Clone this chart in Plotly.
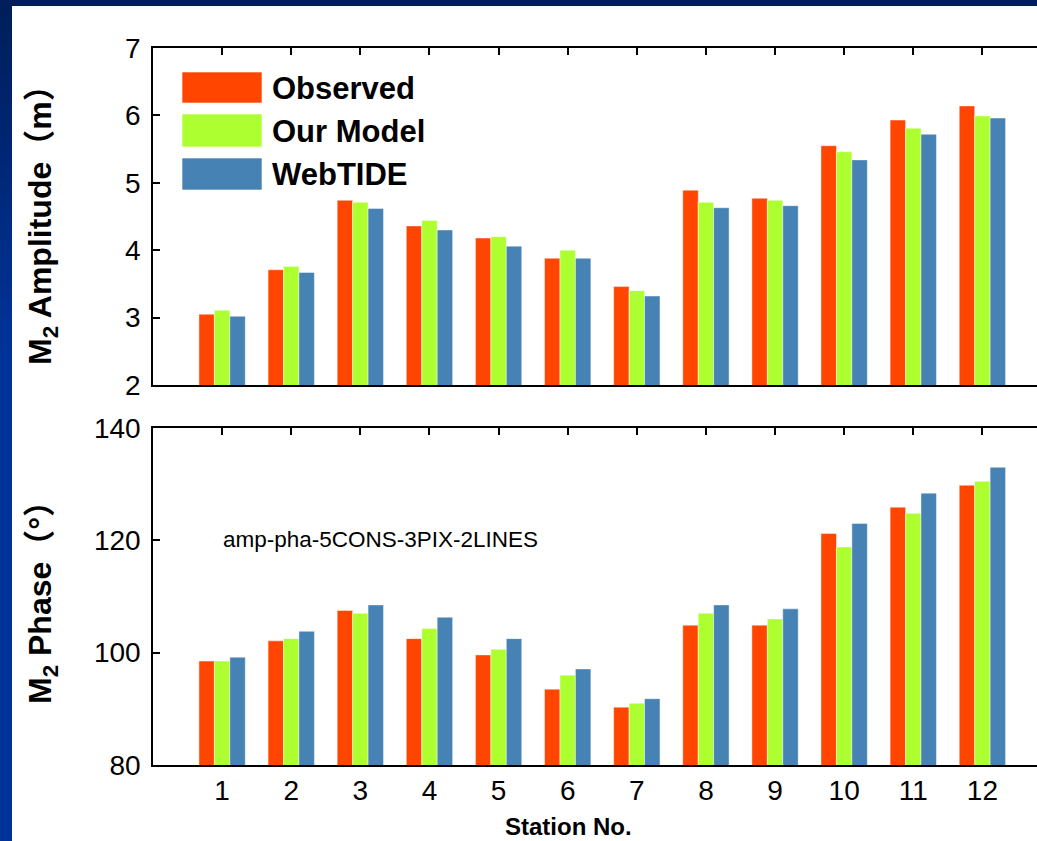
import plotly.graph_objects as go

# ---- data -------------------------------------------------------------
stations = list(range(1, 13))
station_labels = [str(s) for s in stations]

obs_amp = [3.05, 3.71, 4.74, 4.36, 4.18, 3.88, 3.46, 4.89, 4.77, 5.55, 5.93, 6.14]
model_amp = [3.11, 3.76, 4.71, 4.44, 4.20, 4.00, 3.40, 4.71, 4.74, 5.46, 5.81, 5.99]
web_amp = [3.02, 3.67, 4.62, 4.30, 4.06, 3.88, 3.32, 4.63, 4.66, 5.34, 5.72, 5.96]

obs_pha = [98.5, 102.1, 107.5, 102.5, 99.6, 93.5, 90.3, 104.9, 104.9, 121.2, 125.9, 129.8]
model_pha = [98.5, 102.5, 107.0, 104.3, 100.6, 96.0, 91.0, 107.0, 106.0, 118.8, 124.8, 130.5]
web_pha = [99.2, 103.8, 108.5, 106.3, 102.5, 97.1, 91.8, 108.5, 107.8, 123.0, 128.4, 133.0]

series_names = ["Observed", "Our Model", "WebTIDE"]
series_colors = ["#ff4500", "#adff2f", "#4682b4"]

amp_ticks = [2, 3, 4, 5, 6, 7]
pha_ticks = [80, 100, 120, 140]

# ---- page geometry ----------------------------------------------------
W, H = 1037, 841
ML, MR, MT, MB = 153, 0, 48, 76
PW, PH = W - ML - MR, H - MT - MB


def px(x):
    return (x - ML) / PW


def py(y):
    return (H - MB - y) / PH


FONT = "Liberation Sans, Arial, Noto Sans CJK SC, sans-serif"
edge = dict(color="rgba(255,255,255,0.55)", width=0.8)

fig = go.Figure()

for name, color, vals in zip(series_names, series_colors, [obs_amp, model_amp, web_amp]):
    fig.add_trace(go.Bar(x=stations, y=vals, name=name, marker=dict(color=color, line=edge),
                         xaxis="x", yaxis="y", showlegend=False))
for name, color, vals in zip(series_names, series_colors, [obs_pha, model_pha, web_pha]):
    fig.add_trace(go.Bar(x=stations, y=vals, name=name, marker=dict(color=color, line=edge),
                         xaxis="x2", yaxis="y2", showlegend=False))

axis_common = dict(showgrid=False, zeroline=False, showline=True, linecolor="black",
                   linewidth=1.5, automargin=False, fixedrange=True)
x_range = [0, 12.79]

top_dom = [py(385), 1.0]
bot_dom = [0.0, py(428)]

fig.update_layout(
    width=W, height=H,
    margin=dict(l=ML, r=MR, t=MT, b=MB, autoexpand=False),
    paper_bgcolor="#003399", plot_bgcolor="white",
    barmode="group", bargap=0.33, bargroupgap=0.0,
    font=dict(family=FONT, color="black"),
    xaxis=dict(domain=[0, 1], anchor="y", range=x_range, tickvals=stations,
               showticklabels=False, ticks="", **axis_common),
    yaxis=dict(domain=top_dom, anchor="x", range=[2, 7], tickvals=amp_ticks,
               ticks="inside", ticklen=7, tickwidth=1.5, tickcolor="black",
               tickfont=dict(size=28), ticklabelstandoff=5, **axis_common),
    xaxis3=dict(overlaying="x", side="top", anchor="y", range=x_range, tickvals=stations,
                showticklabels=False, ticks="inside", ticklen=7, tickwidth=1.5,
                tickcolor="black", **axis_common),
    xaxis2=dict(domain=[0, 1], anchor="y2", range=x_range, tickvals=stations,
                ticktext=station_labels, ticks="", tickfont=dict(size=28),
                ticklabelstandoff=0, **axis_common),
    yaxis2=dict(domain=bot_dom, anchor="x2", range=[80, 140], tickvals=pha_ticks,
                ticks="inside", ticklen=7, tickwidth=1.5, tickcolor="black",
                tickfont=dict(size=28), ticklabelstandoff=5, **axis_common),
    xaxis4=dict(overlaying="x2", side="top", anchor="y2", range=x_range, tickvals=stations,
                showticklabels=False, ticks="inside", ticklen=7, tickwidth=1.5,
                tickcolor="black", **axis_common),
)

# invisible helpers so the top tick axes are drawn
fig.add_trace(go.Scatter(x=[None], y=[None], xaxis="x3", yaxis="y", showlegend=False,
                         hoverinfo="skip"))
fig.add_trace(go.Scatter(x=[None], y=[None], xaxis="x4", yaxis="y2", showlegend=False,
                         hoverinfo="skip"))

# ---- slide background: dark-to-royal blue gradient and white sheet ----
shapes = []
top_rgb = (0x00, 0x1e, 0x5a)
low_rgb = (0x00, 0x33, 0x99)
n_bands = 24
band_h = 360 / n_bands
for i in range(n_bands):
    t = i / (n_bands - 1)
    c = tuple(round(a + (b - a) * t) for a, b in zip(top_rgb, low_rgb))
    y0 = i * band_h
    y1 = H if i == n_bands - 1 else (i + 1) * band_h + 0.5
    shapes.append(dict(type="rect", xref="paper", yref="paper", layer="below",
                       x0=px(0), x1=px(W), y0=py(y1), y1=py(y0), line=dict(width=0),
                       fillcolor="rgb(%d,%d,%d)" % c))
shapes.append(dict(type="rect", xref="paper", yref="paper", layer="below",
                   x0=px(12), x1=px(W + 5), y0=py(H + 5), y1=py(6),
                   line=dict(width=0), fillcolor="white"))

# ---- legend with large swatches ------------------------------------------
annotations = []
legend_rows = [(72, 103), (114, 147), (158, 190)]
for (y0, y1), name, color in zip(legend_rows, series_names, series_colors):
    shapes.append(dict(type="rect", xref="paper", yref="paper", layer="above",
                       x0=px(182), x1=px(262), y0=py(y1), y1=py(y0),
                       fillcolor=color, line=dict(color="rgba(255,255,255,0.6)", width=1)))
    annotations.append(dict(text="<b>%s</b>" % name, xref="paper", yref="paper",
                            x=px(270), y=py((y0 + y1) / 2 + 1), xanchor="left",
                            yanchor="middle", showarrow=False,
                            font=dict(size=31, family=FONT, color="black")))

# ---- axis titles and note ------------------------------------------------
annotations.append(dict(text="<b>M<sub>2</sub> Amplitude（m）</b>", xref="paper", yref="paper",
                        x=px(42), y=py(217), textangle=-90, showarrow=False,
                        xanchor="center", yanchor="middle",
                        font=dict(size=32, family=FONT, color="black")))
annotations.append(dict(text="<b>M<sub>2</sub> Phase（°）</b>", xref="paper", yref="paper",
                        x=px(42), y=py(595), textangle=-90, showarrow=False,
                        xanchor="center", yanchor="middle",
                        font=dict(size=32, family=FONT, color="black")))
annotations.append(dict(text="<b>Station No.</b>", xref="paper", yref="paper",
                        x=px(568), y=py(826), showarrow=False,
                        xanchor="center", yanchor="middle",
                        font=dict(size=24, family=FONT, color="black")))
annotations.append(dict(text="amp-pha-5CONS-3PIX-2LINES", xref="paper", yref="paper",
                        x=px(380), y=py(539), showarrow=False,
                        xanchor="center", yanchor="middle",
                        font=dict(size=22.5, family=FONT, color="black")))

fig.update_layout(shapes=shapes, annotations=annotations)

fig.write_html("out.html")
